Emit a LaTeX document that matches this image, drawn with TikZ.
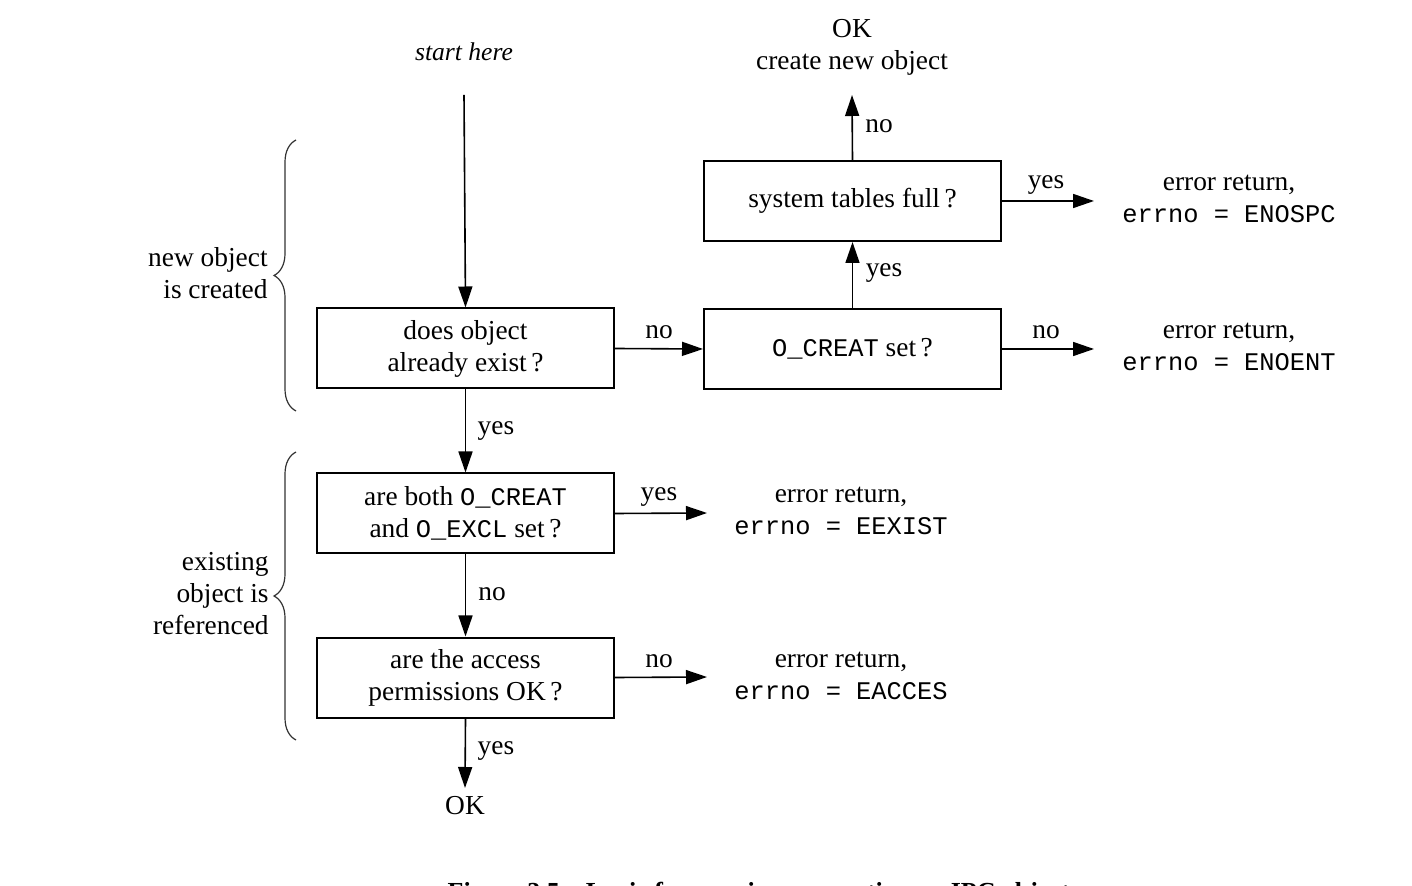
\documentclass[tikz,border=0pt]{standalone}
\usepackage{fontspec}
\setmainfont{Liberation Serif}
\setmonofont{Liberation Mono}
\usetikzlibrary{arrows.meta,decorations.pathreplacing}
\begin{document}
\begin{tikzpicture}[x=0.5pt,y=-0.5pt,
  txt/.style={font=\fontsize{13.7}{16}\selectfont, align=center, inner sep=0pt},
  box/.style={draw, line width=1pt, minimum width=148.5pt, minimum height=40pt, txt},
  arr/.style={line width=0.8pt, -{Triangle[length=10.5pt,width=7pt]}},
  brc/.style={decorate, decoration={brace, amplitude=11pt}, line width=0.6pt, draw=black!80},
  lbl/.style={txt},
  side/.style={txt, align=right, anchor=east}
]
\useasboundingbox (0,0) rectangle (1412,886);
\newcommand{\cd}[1]{{\fontsize{12.7}{16}\ttfamily #1}}

% boxes
\node[box] (b1) at (465.5,348.5) {does object\\already exist\,?};
\node[box] (b2) at (852.5,349) {\cd{O\_CREAT} set\,?};
\node[box] (b3) at (852.5,201) {system tables full\,?};
\node[box] (b4) at (465.5,513.5) {are both \cd{O\_CREAT}\\and \cd{O\_EXCL} set\,?};
\node[box] (b5) at (465.5,677.5) {are the access\\permissions OK\,?};

% terminal texts
\node[txt, font=\fontsize{12.8}{16}\selectfont\itshape] (start) at (464,52) {start here};
\coordinate (s0) at (464,95);
\node[txt] (ok1) at (852,47) {OK\\create new object};
\coordinate (okin) at (852,95);
\node[txt] (ok2) at (465,806) {OK};
\coordinate (okb) at (465,788);

\node[txt] (e1) at (1229,199) {error return,\\\cd{errno = ENOSPC}};
\node[txt] (e2) at (1229,347) {error return,\\\cd{errno = ENOENT}};
\node[txt] (e3) at (841,511) {error return,\\\cd{errno = EEXIST}};
\node[txt] (e4) at (841,676) {error return,\\\cd{errno = EACCES}};
\coordinate (e1in) at (1094,201);
\coordinate (e2in) at (1094,349);
\coordinate (e3in) at (707,513);
\coordinate (e4in) at (707,677);

% connectors
\draw[arr] (s0) -- (b1.north);
\draw[arr] (b1.east) -- (b2.west);
\draw[arr] (b2.north) -- (b3.south);
\draw[arr] (b3.north) -- (okin);
\draw[arr] (b3.east) -- (e1in);
\draw[arr] (b2.east) -- (e2in);
\draw[arr] (b1.south) -- (b4.north);
\draw[arr] (b4.east) -- (e3in);
\draw[arr] (b4.south) -- (b5.north);
\draw[arr] (b5.east) -- (e4in);
\draw[arr] (b5.south) -- (okb);

% connector labels
\node[lbl] (l1) at (659,332) {no};
\node[lbl] (l2) at (884,273) {yes};
\node[lbl] (l3) at (879,126) {no};
\node[lbl] (l4) at (1046,185) {yes};
\node[lbl] (l5) at (1046,332) {no};
\node[lbl] (l6) at (496,431) {yes};
\node[lbl] (l7) at (659,497) {yes};
\node[lbl] (l8) at (492,594) {no};
\node[lbl] (l9) at (659,661) {no};
\node[lbl] (l10) at (496,751) {yes};

% braces
\draw[brc] (296,411) -- (296,140);
\draw[brc] (296,740) -- (296,452);
\node[side] (n1) at (268,273) {new object\\is created};
\node[side] (n2) at (269,594) {existing\\object is\\referenced};

% caption (cut off by the page edge, as in the reference)
\node[font=\fontsize{13}{16}\bfseries\selectfont, anchor=base, inner sep=0pt] (cap) at (762,900) {Figure 3.5\quad Logic for opening or creating an IPC object.};
\end{tikzpicture}
\end{document}
